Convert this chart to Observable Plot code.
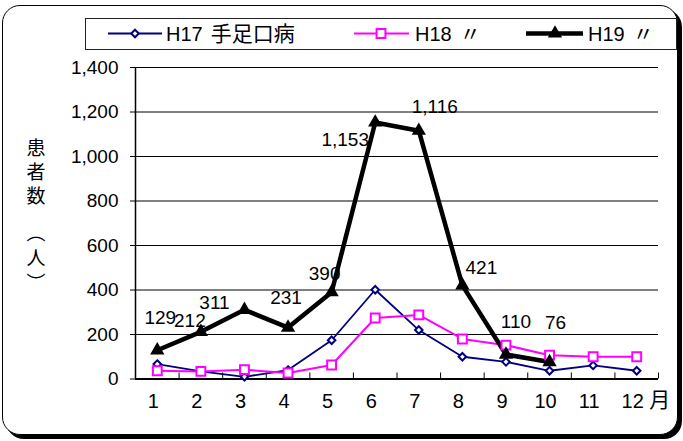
<!DOCTYPE html>
<html><head><meta charset="utf-8">
<script src="https://cdn.jsdelivr.net/npm/d3@7"></script>
<script src="https://cdn.jsdelivr.net/npm/@observablehq/plot@0.6"></script>
<style>
body{margin:0;background:#fff;}
#wrap{position:relative;width:683px;height:441px;overflow:hidden;background:#fff;}
#frame{position:absolute;left:2px;top:5px;width:674px;height:428px;border:1.5px solid #000;border-radius:18px;box-shadow:4px 4px 0 #000;background:#fff;}
#chart{position:absolute;left:0;top:0;}
#over{position:absolute;left:0;top:0;}
</style></head>
<body>
<div id="wrap"><div id="frame"></div><div id="chart"></div>
<svg id="over" width="683" height="441" font-family="'Liberation Sans', Arial, sans-serif"></svg>
</div>
<script>
const months = [1,2,3,4,5,6,7,8,9,10,11,12];
const xTickLabels = ["1","2","3","4","5","6","7","8","9","10","11","12"];
const xUnit = "月";
const yTicks = [0,200,400,600,800,1000,1200,1400];
const yTitle = ["患者数", "（人）"];
const seriesNames = ["H17 手足口病", "H18 〃", "H19 〃"];
const h17 = [67, 34, 10, 40, 174, 401, 220, 100, 77, 37, 61, 37];
const h18 = [37, 34, 42, 27, 63, 274, 288, 180, 152, 107, 100, 100];
const h19 = [129, 212, 311, 231, 390, 1153, 1116, 421, 110, 76];

// styling
const colors = ["#000080", "#FF00FF", "#000000"];
const widths = [1.8, 2, 4.5];
const labelNudge = [[3,-32],[-11,-11],[-30,-7],[-2,-30],[-7,-18],[-30,17],[16,-24],[19,-17],[10,-33],[6,-39]];

const rows = [];
[h17, h18, h19].forEach((arr, s) => arr.forEach((v, i) => rows.push({series: seriesNames[s], s, month: months[i], value: v})));
const bounds = d3.range(0.5, 13, 1);
const fmt = d3.format(",");
const FONT = "'Liberation Sans', Arial, sans-serif";
const CJK = "'Noto Sans CJK JP', sans-serif";

const marks = [
  Plot.gridY(yTicks.filter(v => v > 0), {stroke: "#000", strokeOpacity: 1, strokeWidth: 1}),
  Plot.ruleX([0.5], {stroke: "#000", strokeWidth: 1.5}),
  Plot.axisY(yTicks, {tickSize: 5, tickPadding: 12, tickFormat: fmt, label: null, fontSize: 19}),
  Plot.axisX(bounds, {tickSize: 6, dy: -6, tickFormat: () => "", label: null}),
  Plot.ruleY([0], {stroke: "#000", strokeWidth: 2}),
  Plot.text(months, {x: d => d, text: (d, i) => xTickLabels[i], frameAnchor: "bottom", dy: 29, dx: -4, fontSize: 20}),
  Plot.text([12], {x: d => d, text: () => xUnit, frameAnchor: "bottom", dy: 28, dx: 23, fontSize: 21, fontFamily: CJK}),
];
[0, 1, 2].forEach(s => {
  const data = rows.filter(r => r.s === s);
  marks.push(Plot.line(data, {x: "month", y: "value", stroke: colors[s], strokeWidth: widths[s], strokeLinejoin: "miter"}));
});
marks.push(Plot.dot(rows.filter(r => r.s === 0), {x: "month", y: "value", symbol: "diamond2", r: 3.4, stroke: colors[0], strokeWidth: 2, fill: "#fff"}));
marks.push(Plot.dot(rows.filter(r => r.s === 1), {x: "month", y: "value", symbol: "square", r: 5, stroke: colors[1], strokeWidth: 2, fill: "#fff"}));
marks.push(Plot.dot(rows.filter(r => r.s === 2), {x: "month", y: "value", symbol: "triangle", r: 5.3, fill: "#000", stroke: "none"}));
rows.filter(r => r.s === 2).forEach((r, i) => {
  marks.push(Plot.text([r], {x: "month", y: "value", text: d => fmt(d.value), dx: labelNudge[i][0], dy: labelNudge[i][1], fontSize: 19, fill: "#000"}));
});

const chart = Plot.plot({
  width: 683, height: 441,
  marginTop: 67, marginRight: 25, marginBottom: 62.5, marginLeft: 135,
  x: {type: "linear", domain: [0.5, 12.5]},
  y: {domain: [0, 1400]},
  style: {fontFamily: FONT, fontSize: "19px", color: "#000", background: "transparent"},
  marks
});
document.getElementById("chart").appendChild(chart);

// legend + y title overlay
const over = d3.select("#over");
over.append("rect").attr("x", 85.5).attr("y", 18.5).attr("width", 591).attr("height", 31).attr("fill", "#fff").attr("stroke", "#222").attr("stroke-width", 1);
const ly = 33.5;
const items = [
  {x1: 108, x2: 162, cx: 135, tx: 166},
  {x1: 354, x2: 409, cx: 381, tx: 415},
  {x1: 526, x2: 583, cx: 555, tx: 588}
];
items.forEach((it, s) => {
  over.append("line").attr("x1", it.x1).attr("x2", it.x2).attr("y1", ly).attr("y2", ly).attr("stroke", colors[s]).attr("stroke-width", widths[s]);
  const g = over.append("g").attr("transform", `translate(${it.cx},${ly})`);
  if (s === 0) g.append("path").attr("d", d3.symbol(d3.symbolDiamond2, Math.PI * 3.4 * 3.4)()).attr("fill", "#fff").attr("stroke", colors[0]).attr("stroke-width", 2);
  if (s === 1) g.append("path").attr("d", d3.symbol(d3.symbolSquare, Math.PI * 25)()).attr("fill", "#fff").attr("stroke", colors[1]).attr("stroke-width", 2);
  if (s === 2) g.append("path").attr("d", d3.symbol(d3.symbolTriangle, Math.PI * 5.3 * 5.3)()).attr("fill", "#000");
  const [code, rest] = [seriesNames[s].split(" ")[0], seriesNames[s].split(" ")[1]];
  const t = over.append("text").attr("x", it.tx).attr("y", ly).attr("dy", "0.36em").attr("font-size", 20).attr("fill", "#000");
  t.append("tspan").text(code);
  t.append("tspan").attr("dx", 8).attr("font-family", CJK).attr("font-size", 21).text(rest);
});
const yt = over.append("text").attr("x", 36).attr("y", 138)
  .style("writing-mode", "vertical-rl").style("letter-spacing", "5px")
  .attr("font-family", CJK).attr("font-size", 19).attr("fill", "#000");
yt.append("tspan").text(yTitle[0]);
yt.append("tspan").attr("dy", 13).style("letter-spacing", "6px").text(yTitle[1]);
</script>
</body></html>
